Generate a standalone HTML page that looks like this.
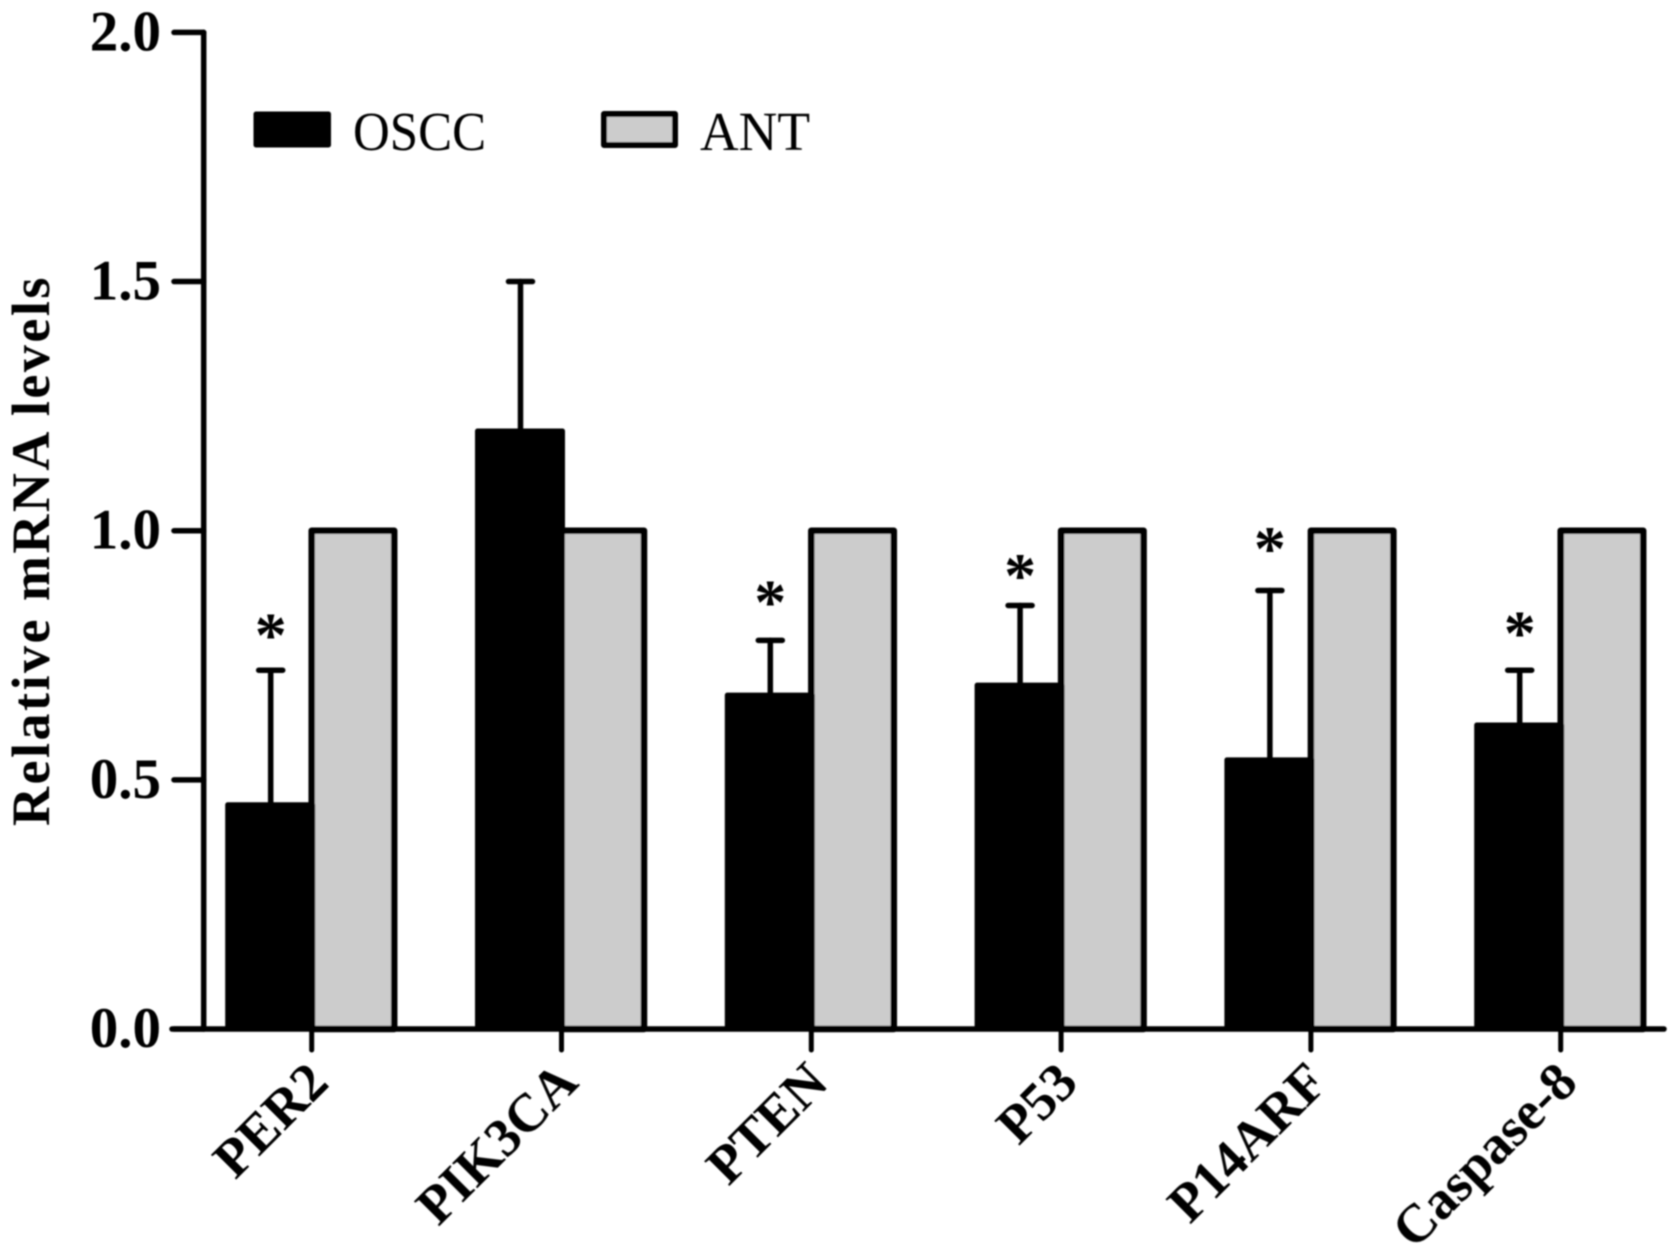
<!DOCTYPE html>
<html lang="en">
<head>
<meta charset="utf-8">
<title>Relative mRNA levels chart</title>
<style>
html,body{margin:0;padding:0;background:#fff;}
svg{display:block;}
text{font-family:"Liberation Serif",serif;fill:#000;}
.b{font-weight:bold;}
</style>
</head>
<body>
<svg id="chart" xmlns="http://www.w3.org/2000/svg" width="1677" height="1257" viewBox="0 0 1677 1257">
<defs><filter id="soft" x="-2%" y="-2%" width="104%" height="104%"><feGaussianBlur stdDeviation="0.9"/></filter></defs>
<rect width="1677" height="1257" fill="#fff"/>
<g id="plot" filter="url(#soft)">
<text class="b" font-size="54" letter-spacing="2.5" transform="translate(49,826) rotate(-90)">Relative mRNA levels</text>
<g>
<rect x="256" y="114" width="72.500" height="31" fill="#000" stroke="#000" stroke-width="5" stroke-linejoin="round"/>
<text font-size="52" transform="translate(353,150) scale(0.98,1.06)">OSCC</text>
<rect x="604" y="114" width="71" height="31" fill="#ccc" stroke="#000" stroke-width="6" stroke-linejoin="round"/>
<text font-size="52" transform="translate(700,150) scale(1.03,1.06)">ANT</text>
</g>
</g>
</svg>
<script>
const categories = ['PER2', 'PIK3CA', 'PTEN', 'P53', 'P14ARF', 'Caspase-8'];
const osccValues = [0.45, 1.2, 0.67, 0.69, 0.54, 0.61];
const osccErrorTops = [0.72, 1.5, 0.78, 0.85, 0.88, 0.72];
const antValues = [1, 1, 1, 1, 1, 1];
const starLevels = [0.748, null, 0.814, 0.867, 0.921, 0.752];
const yTicks = [0, 0.5, 1, 1.5, 2];
const yTickLabels = ['0.0', '0.5', '1.0', '1.5', '2.0'];

const NS = 'http://www.w3.org/2000/svg';
const plot = document.getElementById('plot');
function yScale(v) { return 1029 - v * 498.3; }
function xScale(i) { return 311.7 + i * 249.8; }
function add(tag, attrs) {
  const el = document.createElementNS(NS, tag);
  for (const k in attrs) el.setAttribute(k, attrs[k]);
  plot.appendChild(el);
  return el;
}
function segment(x1, y1, x2, y2, w) {
  return add('line', { x1: x1, y1: y1, x2: x2, y2: y2, stroke: '#000', 'stroke-width': w, 'stroke-linecap': 'round' });
}

categories.forEach(function (name, i) {
  const tx = xScale(i);
  const gray = add('rect', { x: tx, y: yScale(antValues[i]), width: 82.5, height: yScale(0) - yScale(antValues[i]), fill: '#ccc', stroke: '#000', 'stroke-width': 6.5, 'stroke-linejoin': 'round' });
  
  

  const black = add('rect', { x: tx - 84, y: yScale(osccValues[i]), width: 85, height: yScale(0) - yScale(osccValues[i]), fill: '#000', stroke: '#000', 'stroke-width': 5, 'stroke-linejoin': 'round' });
  
  

  const cx = tx - 41;
  const stem = segment(cx, yScale(osccValues[i]), cx, yScale(osccErrorTops[i]), 5.5);
  
  
  const cap = segment(cx - 12, yScale(osccErrorTops[i]), cx + 12, yScale(osccErrorTops[i]), 5.5);
  
  

  if (starLevels[i] !== null) {
    const star = add('text', { x: cx, y: yScale(starLevels[i]), 'font-size': 64, 'font-weight': 'bold', 'text-anchor': 'middle' });
    star.textContent = '*';
    
    
  }

  const tick = segment(tx, yScale(0), tx, 1050, 5);
  
  

  const label = add('text', { 'font-size': 54, 'font-weight': 'bold', 'text-anchor': 'end', transform: 'translate(' + (tx + 19) + ',1085) rotate(-45)' });
  label.textContent = name;
  
  
});

const yAxis = segment(203.7, yScale(2), 203.7, yScale(0), 5.5);


const xAxis = segment(172, yScale(0), 1664, yScale(0), 5.5);



yTicks.forEach(function (v, i) {
  const t = segment(174, yScale(v), 203.7, yScale(v), 5.5);
  
  
  const label = add('text', { x: 161, y: yScale(v) + 18, 'font-size': 57, 'font-weight': 'bold', 'text-anchor': 'end' });
  label.textContent = yTickLabels[i];
  
  
});
</script>
</body>
</html>
